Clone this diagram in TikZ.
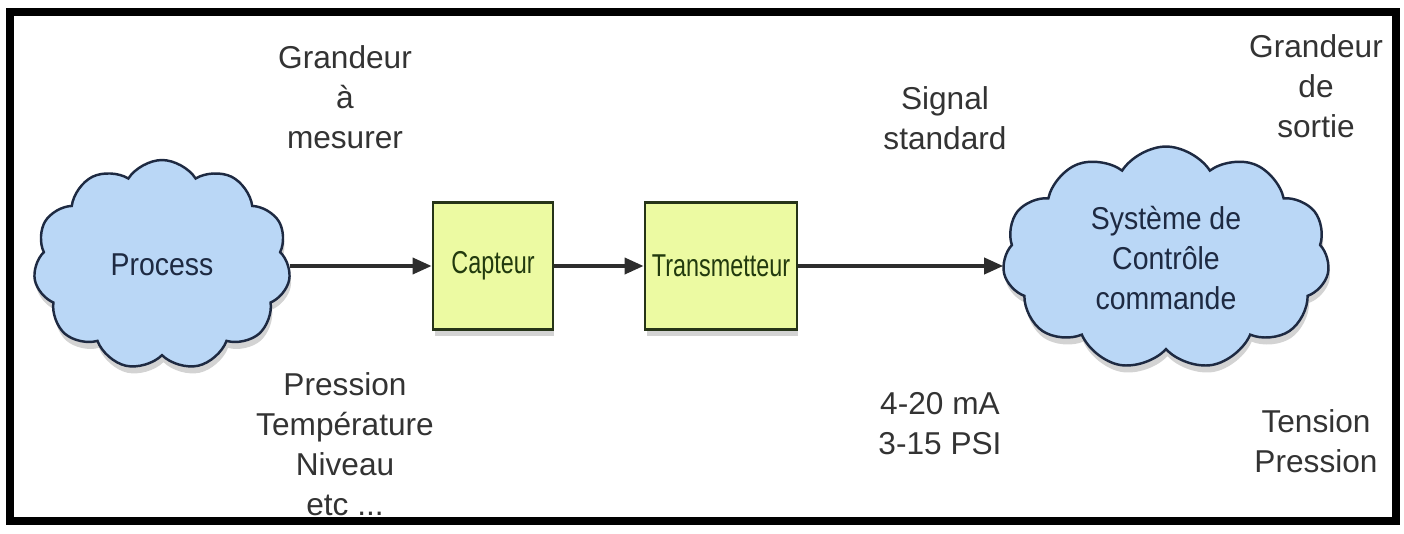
\documentclass[tikz,border=0pt]{standalone}
\usepackage{fontspec}
\setmainfont{Liberation Sans}
\usetikzlibrary{shapes.symbols,arrows.meta,shadows}
\definecolor{cloudfill}{RGB}{186,215,246}
\definecolor{cloudline}{RGB}{30,42,66}
\definecolor{boxfill}{RGB}{236,250,162}
\definecolor{boxline}{RGB}{38,52,24}
\definecolor{boxtext}{RGB}{34,58,14}
\definecolor{wiregray}{RGB}{45,45,45}
\tikzset{
  ombre/.style={drop shadow={shadow xshift=0.03cm, shadow yshift=-0.14cm, opacity=0.35}},
  nuage/.style={cloud, cloud puffs=11, cloud puff arc=115, aspect=1.3,
    draw=cloudline, line width=1.4pt, fill=cloudfill, text=cloudline,
    align=center, inner sep=0pt, ombre,
    font=\fontsize{18}{22.7}\selectfont\addfontfeature{FakeStretch=0.9}},
  bloc/.style={draw=boxline, line width=1.6pt, fill=boxfill, text=boxtext,
    minimum height=2.54cm, inner sep=2pt, ombre,
    font=\fontsize{18}{22.7}\selectfont\addfontfeature{FakeStretch=0.74}},
  legende/.style={align=center, text=black!80},
  fleche/.style={-{Triangle[length=0.38cm,width=0.32cm]}, line width=2.1pt, draw=wiregray},
}
\begin{document}
\begin{tikzpicture}[x=0.02cm, y=-0.02cm, font=\fontsize{18}{22.7}\selectfont]
  \useasboundingbox (0,0) rectangle (1404,534);
  % cadre
  \draw[line width=5pt] (10,12) rectangle (1396,521);
  % chaine de mesure
  \node[nuage, minimum width=5.14cm, minimum height=4.2cm] (process) at (162,265) {Process};
  \node[bloc, minimum width=2.4cm] (capteur) at (493,266) {Capteur};
  \node[bloc, minimum width=3.04cm] (transmetteur) at (721,266) {Transmetteur};
  \node[nuage, minimum width=6.54cm, minimum height=4.46cm] (controle) at (1166,258)
    {Système de\\Contrôle\\commande};
  % liaisons
  \draw[fleche] (process.east |- capteur.west) -- (capteur.west);
  \draw[fleche] (capteur.east) -- (transmetteur.west);
  \draw[fleche] (transmetteur.east) -- (transmetteur.east -| controle.west);
  % legendes
  \node[legende] (grandeur) at (345,97) {Grandeur\\à\\mesurer};
  \node[legende] (exemples) at (345,444) {Pression\\Température\\Niveau\\etc ...};
  \node[legende] (signal) at (945,118) {Signal\\standard};
  \node[legende] (normes) at (940,424) {4-20 mA\\3-15 PSI};
  \node[legende] (sortie) at (1316,86) {Grandeur\\de\\sortie};
  \node[legende] (tension) at (1316,441) {Tension\\Pression};
\end{tikzpicture}
\end{document}
